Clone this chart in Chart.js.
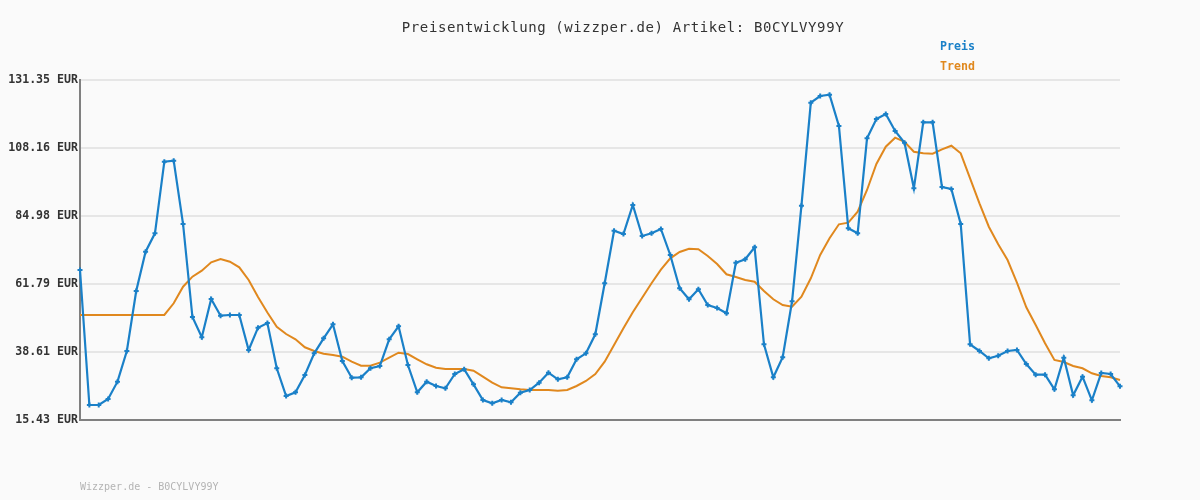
<!DOCTYPE html>
<html>
<head>
<meta charset="utf-8">
<script src="https://cdn.jsdelivr.net/npm/chart.js@4.4.1/dist/chart.umd.min.js"></script>
<style>
  html, body { margin: 0; padding: 0; background: #fafafa; }
  #wrap { width: 1200px; height: 500px; position: relative; }
</style>
</head>
<body>
<div id="wrap"><canvas id="c" width="1200" height="500"></canvas></div>
<script>
const titleText = "Preisentwicklung (wizzper.de) Artikel: B0CYLVY99Y";
const footerText = "Wizzper.de - B0CYLVY99Y";
const seriesNames = ["Preis", "Trend"];
const tickValues = [15.43, 38.61, 61.79, 84.98, 108.16, 131.35];
const tickLabels = ["15.43 EUR", "38.61 EUR", "61.79 EUR", "84.98 EUR", "108.16 EUR", "131.35 EUR"];

const preis = [
  66.57, 20.54, 20.54, 22.59, 28.49, 38.96, 59.41, 72.81, 79.08, 103.50,
  103.84, 82.25, 50.55, 43.63, 56.68, 50.99, 51.23, 51.23, 39.30, 46.90,
  48.50, 33.06, 23.61, 24.87, 30.77, 38.17, 43.28, 48.06, 35.55, 29.85,
  29.99, 33.06, 33.84, 42.94, 47.38, 34.18, 24.87, 28.49, 27.02, 26.24,
  31.11, 32.72, 27.60, 22.25, 21.12, 22.25, 21.47, 24.74, 25.66, 28.15,
  31.56, 29.31, 29.99, 36.13, 38.17, 44.65, 62.04, 79.97, 78.85, 88.73,
  78.16, 79.08, 80.55, 71.69, 60.33, 56.58, 59.99, 54.64, 53.62, 51.81,
  69.06, 70.22, 74.31, 41.24, 29.99, 36.81, 55.90, 88.49, 123.61, 125.89,
  126.34, 115.67, 80.79, 79.08, 111.47, 118.05, 119.76, 113.96, 109.97, 94.43,
  116.93, 116.93, 94.87, 94.19, 82.25, 41.24, 38.96, 36.47, 37.35, 38.96,
  39.30, 34.52, 30.87, 30.87, 25.90, 36.67, 23.85, 30.19, 22.15, 31.45,
  31.11, 26.92
];

const trend = [
  51.23, 51.23, 51.23, 51.23, 51.23, 51.23, 51.23, 51.23, 51.23, 51.23,
  55.22, 60.88, 64.29, 66.33, 69.20, 70.32, 69.40, 67.49, 63.16, 57.37,
  52.08, 47.24, 44.75, 42.94, 40.22, 38.96, 38.04, 37.59, 37.01, 35.31,
  33.94, 33.94, 34.97, 36.67, 38.38, 37.93, 36.13, 34.42, 33.26, 32.82,
  32.82, 32.82, 32.24, 30.19, 28.15, 26.58, 26.24, 25.90, 25.66, 25.66,
  25.66, 25.42, 25.66, 27.02, 28.73, 31.11, 35.31, 41.00, 46.69, 52.15,
  57.13, 62.04, 66.71, 70.56, 72.71, 73.83, 73.63, 71.34, 68.62, 65.11,
  64.18, 63.16, 62.58, 59.41, 56.58, 54.64, 54.06, 57.47, 63.74, 71.69,
  77.38, 82.15, 82.70, 86.45, 93.85, 102.71, 108.61, 111.68, 110.31, 106.90,
  106.36, 106.22, 107.72, 108.95, 106.36, 97.84, 89.31, 81.33, 75.33, 69.98,
  62.24, 53.85, 47.82, 41.58, 35.89, 35.20, 33.84, 33.06, 31.35, 30.43,
  29.99, 29.07
];

const categories = preis.map((_, i) => String(i + 1));

const BLUE = "#1a80c8";
const ORANGE = "#e0881e";

const textPlugin = {
  id: "texts",
  beforeDraw(chart) {
    const ctx = chart.ctx;
    ctx.save();
    ctx.fillStyle = "#fafafa";
    ctx.fillRect(0, 0, chart.width, chart.height);
    ctx.restore();
  },
  afterDraw(chart) {
    const ctx = chart.ctx;
    ctx.save();
    ctx.textBaseline = "middle";
    // title
    ctx.font = "14px 'DejaVu Sans Mono', monospace";
    ctx.letterSpacing = "0.6px";
    ctx.fillStyle = "#333333";
    ctx.textAlign = "center";
    ctx.fillText(titleText, 623, 28);
    // legend
    ctx.letterSpacing = "0px";
    ctx.font = "bold 11.6px 'DejaVu Sans Mono', monospace";
    ctx.textAlign = "left";
    ctx.fillStyle = BLUE;
    ctx.fillText(seriesNames[0], 940, 47);
    ctx.fillStyle = ORANGE;
    ctx.fillText(seriesNames[1], 940, 67);
    // footer
    ctx.font = "10px 'DejaVu Sans Mono', monospace";
    ctx.fillStyle = "#b4b4b4";
    ctx.fillText(footerText, 80, 487);
    ctx.restore();
  }
};

new Chart(document.getElementById("c"), {
  type: "line",
  data: {
    labels: categories,
    datasets: [
      {
        label: seriesNames[1],
        data: trend,
        borderColor: ORANGE,
        borderWidth: 2,
        pointRadius: 0,
        tension: 0,
        order: 2
      },
      {
        label: seriesNames[0],
        data: preis,
        borderColor: BLUE,
        backgroundColor: BLUE,
        borderWidth: 2.2,
        pointStyle: "cross",
        pointRadius: 2.5,
        pointBorderWidth: 2,
        pointBorderColor: BLUE,
        tension: 0,
        order: 1
      }
    ]
  },
  options: {
    responsive: false,
    animation: false,
    layout: { padding: { left: 0, right: 80, top: 80, bottom: 80 } },
    plugins: {
      legend: { display: false },
      title: { display: false },
      tooltip: { enabled: false }
    },
    scales: {
      x: {
        offset: false,
        grid: { display: false, drawTicks: false },
        ticks: { display: false },
        border: { display: true, color: "#808080", width: 2 },
        afterFit(scale) { scale.height = 0; }
      },
      y: {
        min: tickValues[0],
        max: tickValues[tickValues.length - 1],
        afterBuildTicks(scale) {
          scale.ticks = tickValues.map(v => ({ value: v }));
        },
        afterFit(scale) { scale.width = 80; },
        grid: { color: "#e6e6e6", lineWidth: 2, drawTicks: false },
        border: { display: true, color: "#808080", width: 2 },
        ticks: {
          padding: 2,
          color: "#333333",
          font: { family: "'DejaVu Sans Mono', monospace", size: 11.6, weight: "bold" },
          callback(value) {
            const i = tickValues.indexOf(value);
            return i >= 0 ? tickLabels[i] : "";
          }
        }
      }
    }
  },
  plugins: [textPlugin]
});
</script>
</body>
</html>
